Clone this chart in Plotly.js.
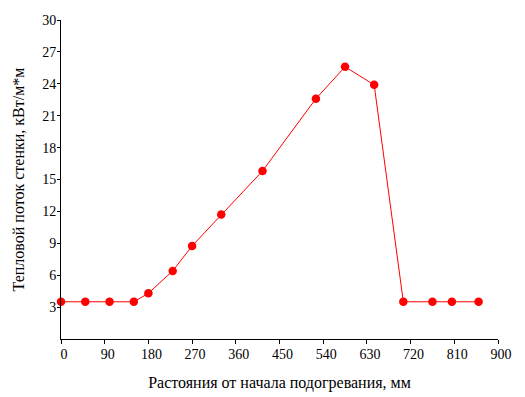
<!DOCTYPE html>
<html>
<head>
<meta charset="utf-8">
<script src="https://cdn.plot.ly/plotly-3.0.1.min.js"></script>
<style>html,body{margin:0;padding:0;background:#fff;}#chart{width:525px;height:397px;}</style>
</head>
<body>
<div id="chart"></div>
<script>
const distances = [0, 50, 100, 150, 180, 230, 270, 330, 415, 525, 585, 645, 705, 765, 805, 860];
const heatFlux = [3.5, 3.5, 3.5, 3.5, 4.3, 6.4, 8.75, 11.7, 15.8, 22.6, 25.6, 23.9, 3.5, 3.5, 3.5, 3.5];
const xTicks = [0, 90, 180, 270, 360, 450, 540, 630, 720, 810, 900];
const yTicks = [3, 6, 9, 12, 15, 18, 21, 24, 27, 30];
const xTitle = 'Растояния от начала подогревания, мм';
const yTitle = 'Тепловой поток стенки, кВт/м*м';

const font = {family: 'Liberation Serif, Times New Roman, serif', color: '#000'};

Plotly.newPlot('chart', [{
  x: distances,
  y: heatFlux,
  type: 'scatter',
  mode: 'lines+markers',
  line: {color: '#ff0000', width: 1},
  marker: {color: '#ff0000', size: 8.5},
  cliponaxis: false,
  showlegend: false
}], {
  width: 525,
  height: 397,
  margin: {l: 61, r: 27, t: 20, b: 58},
  paper_bgcolor: '#fff',
  plot_bgcolor: '#fff',
  font: font,
  xaxis: {
    range: [0, 900],
    tickvals: xTicks,
    ticktext: xTicks.map(String),
    ticks: 'outside',
    ticklen: 4,
    tickwidth: 1,
    tickcolor: '#000',
    showline: true,
    linecolor: '#000',
    linewidth: 1,
    showgrid: false,
    zeroline: false,
    ticklabelshift: 3,
    ticklabelstandoff: -2,
    tickfont: {family: font.family, size: 14, color: '#000'},
    title: {text: xTitle, font: {family: font.family, size: 16, color: '#000'}, standoff: 16}
  },
  yaxis: {
    range: [0, 30],
    tickvals: yTicks,
    ticktext: yTicks.map(String),
    ticks: 'outside',
    ticklen: 3,
    tickwidth: 1,
    tickcolor: '#000',
    showline: true,
    linecolor: '#000',
    linewidth: 1,
    showgrid: false,
    zeroline: false,
    ticklabelstandoff: -2,
    tickfont: {family: font.family, size: 14, color: '#000'},
    title: {text: yTitle, font: {family: font.family, size: 16, color: '#000'}, standoff: 13}
  }
}, {displayModeBar: false, staticPlot: true});
</script>
</body>
</html>
